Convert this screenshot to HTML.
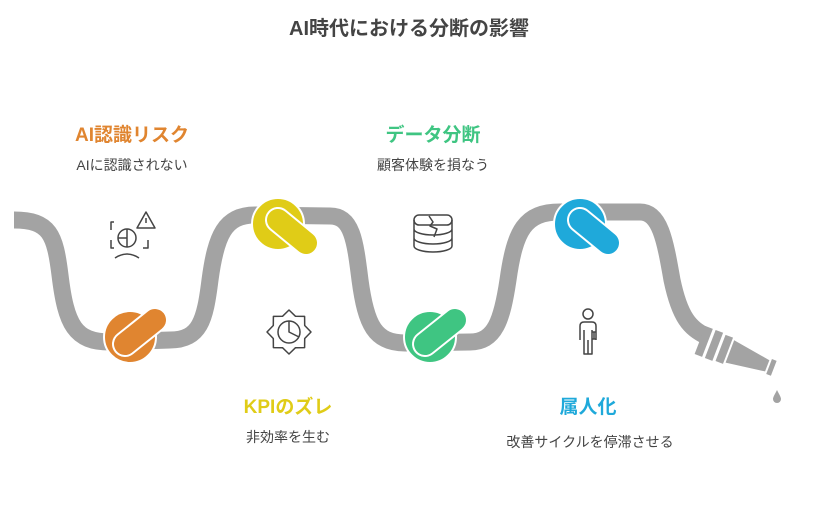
<!DOCTYPE html>
<html><head><meta charset="utf-8"><style>
html,body{margin:0;padding:0;background:#fff;}
body{width:818px;height:512px;position:relative;overflow:hidden;font-family:"Liberation Sans","Noto Sans CJK JP",sans-serif;}
.t{position:absolute;white-space:nowrap;transform:translateX(-50%);}
.h{font-weight:bold;font-size:19px;}
.s{font-size:14px;color:#444;}
</style></head><body>
<svg width="818" height="512" style="position:absolute;left:0;top:0">
<path d="M14,220 C50,220 55,235 60,275 C66,325 75,342 110,342 L170,340 C200,340 205,320 210,280 C216,235 225,215 255,215 L330,216 C352,216 355,240 360,280 C366,325 375,343 405,343 L470,342 C495,342 502,320 508,280 C515,230 525,212 560,212 L640,212 C660,212 665,240 672,280 C680,318 690,328 706,336" fill="none" stroke="#a3a3a3" stroke-width="17"/>
<g transform="translate(700,340) rotate(21)" fill="#a3a3a3">
<rect x="0" y="-15" width="8" height="30"/>
<rect x="11" y="-15" width="8" height="30"/>
<rect x="22" y="-14" width="8" height="28"/>
<polygon points="32,-12 72,-6 72,6 32,12"/>
<rect x="74" y="-8" width="5" height="16"/>
</g>
<path d="M777,390 C779,394 781,397 781,399 A4,4 0 0 1 773,399 C773,397 775,394 777,390Z" fill="#a3a3a3"/>
<g stroke="#fff" stroke-width="2">
<circle cx="130" cy="337" r="26" fill="#e08530"/>
<line x1="125" y1="344" x2="155" y2="320" stroke="#fff" stroke-width="26" stroke-linecap="round"/>
<line x1="125" y1="344" x2="155" y2="320" stroke="#e08530" stroke-width="22" stroke-linecap="round"/>
<circle cx="278" cy="224" r="26" fill="#e0cc17"/>
<line x1="278" y1="220" x2="306" y2="243" stroke="#fff" stroke-width="26" stroke-linecap="round"/>
<line x1="278" y1="220" x2="306" y2="243" stroke="#e0cc17" stroke-width="22" stroke-linecap="round"/>
<circle cx="430" cy="337" r="26" fill="#3fc582"/>
<line x1="425" y1="344" x2="455" y2="320" stroke="#fff" stroke-width="26" stroke-linecap="round"/>
<line x1="425" y1="344" x2="455" y2="320" stroke="#3fc582" stroke-width="22" stroke-linecap="round"/>
<circle cx="580" cy="224" r="26" fill="#1fa9da"/>
<line x1="580" y1="220" x2="608" y2="243" stroke="#fff" stroke-width="26" stroke-linecap="round"/>
<line x1="580" y1="220" x2="608" y2="243" stroke="#1fa9da" stroke-width="22" stroke-linecap="round"/>
</g>
<g fill="none" stroke="#444" stroke-width="1.5" stroke-linejoin="round">
<path d="M114,222 h-3 v8 M111,240 v8 h3 M143,248 h5 v-8"/>
<circle cx="127" cy="238" r="9"/><path d="M127,229 v18 M118,238 h9"/>
<path d="M115,258 Q127,250 139,258"/>
<path d="M146,212 L155,228 L137,228 Z"/><path d="M146,218 v5"/>
<rect x="414" y="215" width="38" height="10" rx="5"/>
<path d="M414,220 v26 a19,6 0 0 0 38,0 v-26 M414,229 a19,6 0 0 0 38,0 M414,238 a19,6 0 0 0 38,0"/>
<path d="M429,216 l4,6 -3,4 7,3 -3,8"/>
<g transform="translate(289,332)">
<polygon points="22,0 15.7,6.5 15.6,15.6 6.5,15.7 0,22 -6.5,15.7 -15.6,15.6 -15.7,6.5 -22,0 -15.7,-6.5 -15.6,-15.6 -6.5,-15.7 0,-22 6.5,-15.7 15.6,-15.6 15.7,-6.5"/>
<circle cx="0" cy="0" r="11"/><path d="M0,-11 v11 l10,5"/>
</g>
<circle cx="588" cy="314" r="5"/>
<path d="M580,340 v-14 q0,-4 4,-4 h8 q4,0 4,4 v14 M584,330 v24 h4 v-14 M588,340 v14 h4 v-24 M596,332 h-4 M594,332 v7 M592,339 h4"/>
</g>
</svg>
<div class="t" style="left:409px;top:12px;font-size:20px;font-weight:bold;color:#444">AI時代における分断の影響</div>
<div class="t h" style="left:132px;top:120px;color:#e08530">AI認識リスク</div>
<div class="t s" style="left:132px;top:155px">AIに認識されない</div>
<div class="t h" style="left:433px;top:120px;color:#3fc582">データ分断</div>
<div class="t s" style="left:433px;top:155px">顧客体験を損なう</div>
<div class="t h" style="left:288px;top:392px;color:#e0cc17">KPIのズレ</div>
<div class="t s" style="left:288px;top:427px">非効率を生む</div>
<div class="t h" style="left:588px;top:392px;color:#1fa9da">属人化</div>
<div class="t s" style="left:590px;top:432px">改善サイクルを停滞させる</div>
</body></html>
